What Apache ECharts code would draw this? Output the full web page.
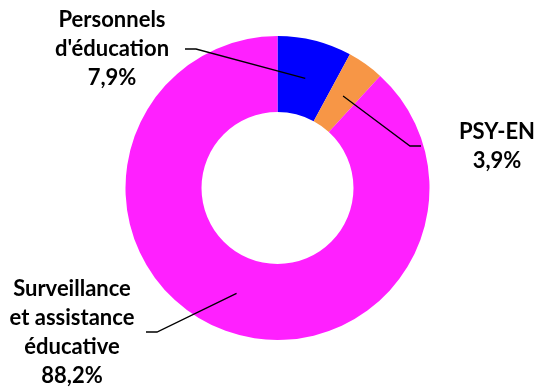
<!DOCTYPE html>
<html>
<head>
<meta charset="utf-8">
<script src="https://cdn.jsdelivr.net/npm/echarts@6/dist/echarts.min.js"></script>
<style>html,body{margin:0;padding:0;background:#fff;}#c{width:536px;height:387px;}</style>
</head>
<body>
<div id="c"></div>
<script>
// Data
var categories = ["Personnels\nd'éducation", "PSY-EN", "Surveillance\net assistance\néducative"];
var shares = [7.9, 3.9, 88.2];
var colors = ['#0000FF', '#F79646', '#FF20FF'];

// Layout (positions, not data)
var CX = 277.5, CY = 188, R_IN = 76, R_OUT = 152, R_ANCHOR = 113;
var labelPos = [
  {x: 112, y: 49, side: 'right', endX: 185},
  {x: 497, y: 146, side: 'left', endX: 421},
  {x: 72, y: 332, side: 'right', endX: 146}
];
var tail = 11;

function pieData(transparent) {
  return categories.map(function (n, i) {
    return {name: n, value: shares[i], itemStyle: {color: transparent ? 'rgba(0,0,0,0)' : colors[i]}};
  });
}

var chart = echarts.init(document.getElementById('c'), null, {renderer: 'canvas'});
chart.setOption({
  animation: false,
  backgroundColor: '#fff',
  series: [{
    type: 'pie',
    z: 2,
    center: [CX, CY],
    radius: [R_IN, R_OUT],
    startAngle: 90,
    clockwise: true,
    silent: true,
    data: pieData(false),
    itemStyle: {borderWidth: 0},
    label: {show: false},
    labelLine: {show: false}
  }, {
    type: 'pie',
    z: 5,
    center: [CX, CY],
    radius: [R_IN, R_OUT],
    startAngle: 90,
    clockwise: true,
    silent: true,
    avoidLabelOverlap: false,
    data: pieData(true),
    itemStyle: {borderWidth: 0},
    label: {
      show: true,
      position: 'outside',
      color: '#000',
      fontFamily: 'Lato',
      fontWeight: 'bold',
      fontSize: 22,
      lineHeight: 29,
      align: 'center',
      formatter: function (p) {
        return p.name + '\n' + p.value.toFixed(1).replace('.', ',') + '%';
      }
    },
    labelLine: {show: true, length: 10, length2: 10, lineStyle: {color: '#000', width: 1.3}},
    labelLayout: function (params) {
      var i = params.dataIndex;
      var lp = labelPos[i];
      var p0 = params.labelLinePoints ? params.labelLinePoints[0] : [CX, CY];
      var k = R_ANCHOR / Math.sqrt((p0[0] - CX) * (p0[0] - CX) + (p0[1] - CY) * (p0[1] - CY));
      var start = [CX + (p0[0] - CX) * k, CY + (p0[1] - CY) * k];
      var tailX = lp.side === 'right' ? lp.endX + tail : lp.endX - tail;
      return {
        x: lp.x, y: lp.y, align: 'center', verticalAlign: 'middle',
        labelLinePoints: [start, [tailX, lp.y], [lp.endX, lp.y]]
      };
    }
  }]
});
</script>
</body>
</html>
